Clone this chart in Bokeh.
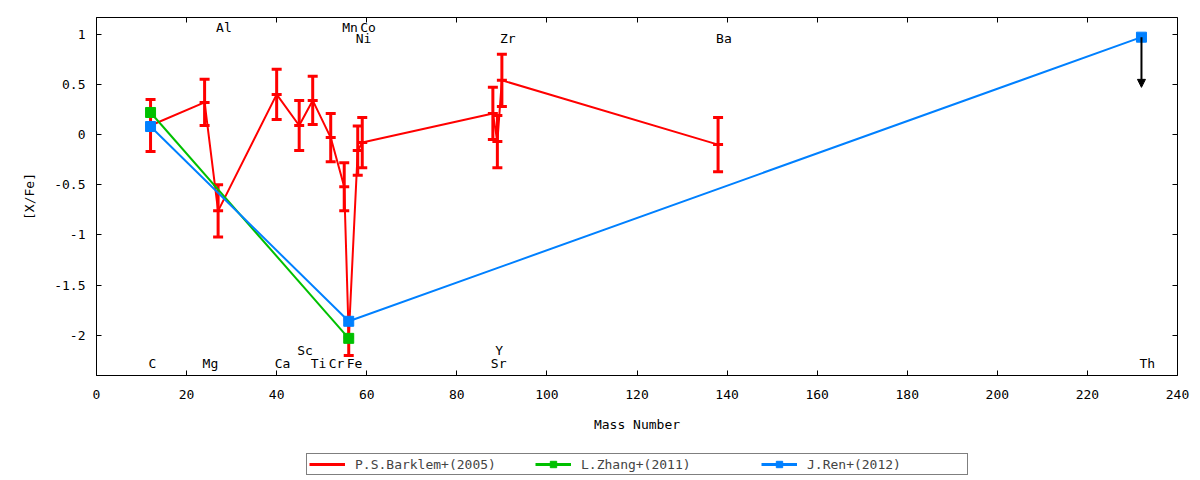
import numpy as np
from bokeh.plotting import figure
from bokeh.layouts import column
from bokeh.models import (ColumnDataSource, Range1d, FixedTicker, Whisker, TeeHead,
                          Arrow, NormalHead, LinearAxis, Legend, LegendItem,
                          CustomJSTickFormatter)
from bokeh.core.properties import value
from bokeh.embed import file_html
from bokeh.resources import INLINE

FONT = "DejaVu Sans Mono"

# ---- data ----
barklem_mass = [12, 24, 27, 40, 45, 48, 52, 55, 56, 58, 59, 88, 89, 90, 138]
barklem_val = [0.09, 0.32, -0.76, 0.40, 0.09, 0.34, -0.03, -0.52, -2.02, -0.16, -0.08, 0.21, -0.07, 0.54, -0.10]
barklem_err = [0.26, 0.23, 0.26, 0.25, 0.25, 0.24, 0.24, 0.24, 0.18, 0.245, 0.25, 0.26, 0.26, 0.26, 0.27]

zhang_mass = [12, 56]
zhang_val = [0.22, -2.03]

ren_mass = [12, 56, 232]
ren_val = [0.08, -1.86, 0.97]

# upper-limit arrow for Th (Ren)
th_mass = [232]
th_start = [0.97]
th_end = [0.47]

elem_names = ["C", "Mg", "Al", "Ca", "Sc", "Ti", "Cr", "Mn", "Fe", "Ni", "Co", "Sr", "Y", "Zr", "Ba", "Th"]
elem_mass = [12, 24, 27, 40, 45, 48, 52, 55, 56, 58, 59, 88, 89, 90, 138, 232]
elem_label_y = [-2.28, -2.28, 1.07, -2.28, -2.15, -2.28, -2.28, 1.07, -2.28, 0.96, 1.07, -2.28, -2.15, 0.96, 0.96, -2.28]

x_ticks = [0, 20, 40, 60, 80, 100, 120, 140, 160, 180, 200, 220, 240]
y_ticks = [-2, -1.5, -1, -0.5, 0, 0.5, 1]
y_tick_labels = ["-2", "-1.5", "-1", "-0.5", "0", "0.5", "1"]

series_names = ["P.S.Barklem+(2005)", "L.Zhang+(2011)", "J.Ren+(2012)"]
RED, GREEN, BLUE = "#ff0000", "#00c000", "#0080ff"

# ---- main figure ----
p = figure(width=1192, height=450, output_backend="svg", toolbar_location=None,
           x_range=Range1d(0, 240), y_range=Range1d(-2.4, 1.166),
           min_border_left=96, min_border_right=15, min_border_top=17, min_border_bottom=75)
p.background_fill_color = "white"
p.border_fill_color = "white"
p.outline_line_color = "black"
p.outline_line_width = 1
p.xgrid.visible = False
p.ygrid.visible = False

for ax in (p.xaxis[0], p.yaxis[0]):
    ax.major_tick_in = 5
    ax.major_tick_out = 0
    ax.minor_tick_line_color = None
    ax.axis_line_color = "black"
    ax.major_tick_line_color = "black"
    ax.major_label_text_font = FONT
    ax.major_label_text_font_size = "13px"
    ax.major_label_text_color = "black"
    ax.axis_label_text_font = FONT
    ax.axis_label_text_font_size = "13px"
    ax.axis_label_text_font_style = "normal"
    ax.axis_label_text_color = "black"

p.xaxis.ticker = FixedTicker(ticks=x_ticks)
p.yaxis.ticker = FixedTicker(ticks=y_ticks)
p.yaxis.major_label_overrides = {t: l for t, l in zip(y_ticks, y_tick_labels)}
p.xaxis.axis_label = "Mass Number"
p.yaxis.axis_label = "[X/Fe]"
p.xaxis.major_label_standoff = 14
p.xaxis.axis_label_standoff = 15
p.yaxis.major_label_standoff = 11
p.yaxis.axis_label_standoff = 14

blank = CustomJSTickFormatter(code="return ''")
top_ax = LinearAxis(ticker=FixedTicker(ticks=x_ticks), formatter=blank,
                    major_tick_in=5, major_tick_out=0, minor_tick_line_color=None,
                    major_label_standoff=0, axis_line_color=None,
                    major_label_text_font_size="1px")
right_ax = LinearAxis(ticker=FixedTicker(ticks=y_ticks), formatter=blank,
                      major_tick_in=5, major_tick_out=0, minor_tick_line_color=None,
                      major_label_standoff=0, axis_line_color=None,
                      major_label_text_font_size="1px")
p.add_layout(top_ax, "above")
p.add_layout(right_ax, "right")

# ---- Barklem (red) ----
bsrc = ColumnDataSource(dict(
    x=barklem_mass, y=barklem_val,
    upper=np.array(barklem_val) + np.array(barklem_err),
    lower=np.array(barklem_val) - np.array(barklem_err)))
p.line("x", "y", source=bsrc, line_color=RED, line_width=2)
wh = Whisker(source=bsrc, base="x", upper="upper", lower="lower", dimension="height",
             line_color=RED, line_width=3,
             upper_head=TeeHead(size=10, line_color=RED, line_width=3),
             lower_head=TeeHead(size=10, line_color=RED, line_width=3))
p.add_layout(wh)
p.scatter("x", "y", source=bsrc, marker="dash", size=10, line_color=RED, line_width=3)

# ---- Zhang (green) ----
zsrc = ColumnDataSource(dict(x=zhang_mass, y=zhang_val))
p.line("x", "y", source=zsrc, line_color=GREEN, line_width=2)
p.scatter("x", "y", source=zsrc, marker="square", size=10, fill_color=GREEN, line_color=GREEN)

# ---- Ren (blue) ----
rsrc = ColumnDataSource(dict(x=ren_mass, y=ren_val))
p.line("x", "y", source=rsrc, line_color=BLUE, line_width=2)
p.scatter("x", "y", source=rsrc, marker="square", size=10, fill_color=BLUE, line_color=BLUE)

# Th upper-limit arrow
asrc = ColumnDataSource(dict(x0=th_mass, y0=th_start, x1=th_mass, y1=th_end))
p.add_layout(Arrow(source=asrc, x_start="x0", y_start="y0", x_end="x1", y_end="y1",
                   line_color="black", line_width=2,
                   end=NormalHead(size=8, fill_color="black", line_color="black")))

# element labels
lsrc = ColumnDataSource(dict(x=elem_mass, y=elem_label_y, t=elem_names))
p.text("x", "y", text="t", source=lsrc, text_font=value(FONT), text_font_size="13px",
       text_align="left", text_baseline="middle", text_color="black", x_offset=-2)

# ---- legend strip (separate figure below the plot; its view range shows no data,
#      its renderers only serve as legend samples) ----
lf = figure(width=1192, height=30, output_backend="svg", toolbar_location=None,
            x_range=Range1d(1000, 1001), y_range=Range1d(1000, 1001),
            min_border_left=0, min_border_right=0, min_border_top=0, min_border_bottom=0)
lf.axis.visible = False
lf.xgrid.visible = False
lf.ygrid.visible = False
lf.outline_line_color = None
lf.background_fill_color = "white"
lf.border_fill_color = "white"

items = []
for name, src, col, mk in zip(series_names, [bsrc, zsrc, rsrc], [RED, GREEN, BLUE],
                              ["dash", "square", "square"]):
    ln = lf.line("x", "y", source=src, line_color=col, line_width=3)
    sc = lf.scatter("x", "y", source=src, marker=mk, size=10, fill_color=col,
                    line_color=col, line_width=3 if mk == "dash" else 1)
    items.append(LegendItem(label=name, renderers=[ln, sc]))

legend = Legend(items=items, orientation="horizontal", location=(210, 5),
                label_text_font=FONT, label_text_font_size="13px",
                glyph_width=36, glyph_height=16, label_standoff=10, label_width=158,
                spacing=22, padding=2, margin=0,
                border_line_color="black", border_line_width=1,
                background_fill_alpha=1.0)
lf.add_layout(legend, "center")

layout = column(p, lf, spacing=0)
open("out.html", "w").write(file_html(layout, INLINE))
